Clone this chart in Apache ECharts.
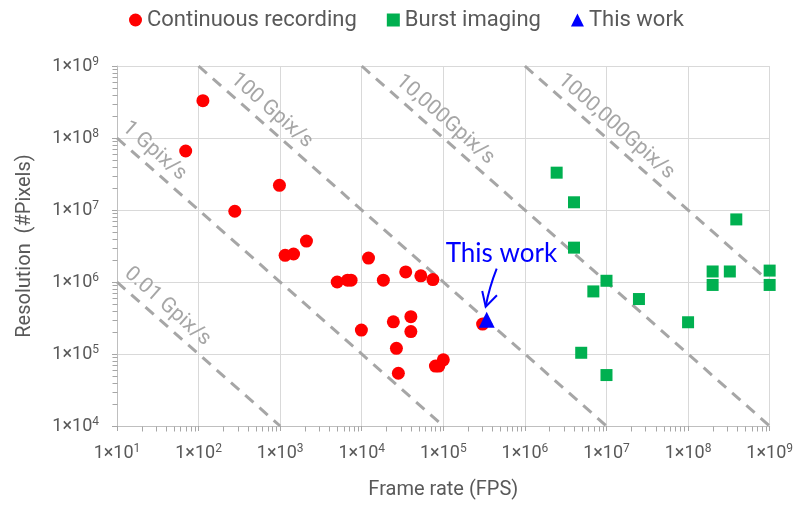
<!DOCTYPE html>
<html>
<head>
<meta charset="utf-8">
<script src="https://cdn.jsdelivr.net/npm/echarts@6/dist/echarts.min.js"></script>
<style>
  html, body { margin: 0; padding: 0; background: #fff; }
  #chart { width: 796px; height: 505px; }
</style>
</head>
<body>
<div id="chart"></div>
<script>
// Frame rate (frames per second) and resolution (pixels) of reported imagers
const continuousFps = [113, 69.5, 278, 980, 2100, 1150, 1460, 5000, 6700, 7400, 12100, 18400,
  9900, 24400, 26600, 28100, 34600, 53000, 74500, 40000, 40000, 80000, 88000, 100000, 303000];
const continuousPixels = [3.3e8, 6.6e7, 9.6e6, 2.2e7, 3.7e6, 2.35e6, 2.45e6, 1.0e6, 1.06e6, 1.06e6, 2.15e6, 1.06e6,
  2.15e5, 2.8e5, 1.2e5, 5.4e4, 1.38e6, 1.22e6, 1.08e6, 3.3e5, 2.05e5, 6.8e4, 6.8e4, 8.3e4, 2.6e5];

const burstFps = [2.45e6, 4.0e6, 3.9e8, 4.0e6, 1.0e7, 6.9e6, 2.5e7, 1.0e8, 4.9e6, 1.0e7,
  2.0e8, 2.0e8, 3.25e8, 1.0e9, 1.0e9];
const burstPixels = [3.3e7, 1.28e7, 7.4e6, 3.0e6, 1.04e6, 7.4e5, 5.8e5, 2.76e5, 1.04e5, 5.1e4,
  1.4e6, 9.1e5, 1.4e6, 1.44e6, 9.1e5];

const thisWorkFps = [3.4e5];
const thisWorkPixels = [3.0e5];

// Constant pixel-throughput guide lines (Gpix/s) and their captions
const throughputGpix = [0.01, 1, 100, 10000, 1000000];
const throughputLabels = ['0.01 Gpix/s', '1 Gpix/s', '100 Gpix/s', '10,000Gpix/s', '1000,000Gpix/s'];

// Decade exponents used for the axis ticks
const xTickExponents = [1, 2, 3, 4, 5, 6, 7, 8, 9];
const yTickExponents = [4, 5, 6, 7, 8, 9];

const xMin = Math.pow(10, xTickExponents[0]);
const xMax = Math.pow(10, xTickExponents[xTickExponents.length - 1]);
const yMin = Math.pow(10, yTickExponents[0]);
const yMax = Math.pow(10, yTickExponents[yTickExponents.length - 1]);

// caption placement along each guide line (fraction of its length) and offset above it
const captionAlong = [0.249, 0.084, 0.155, 0.18, 0.332];
const captionOffset = 15;

const textGrey = '#595959';
const guideGrey = '#a6a6a6';
const axisGrey = '#bfbfbf';
const tickGrey = '#a6a6a6';
const gridGrey = '#d9d9d9';
const FONT = 'Roboto, "Noto Sans", sans-serif';

function toSci(v) {
  const e = Math.round(Math.log10(v));
  return '{b|1×10}{e|' + e + '}';
}
const sciRich = {
  b: { fontSize: 18, color: textGrey, fontFamily: FONT },
  e: { fontSize: 12, color: textGrey, fontFamily: FONT, padding: [0, 0, 8, 0] }
};

// minor ticks at 2..9 within each decade, both axes
const minorTicks = [];
xTickExponents.slice(0, -1).forEach(function (e) {
  for (let k = 2; k <= 9; k++) minorTicks.push([k * Math.pow(10, e), yMin, 0]);
});
yTickExponents.slice(0, -1).forEach(function (e) {
  for (let k = 2; k <= 9; k++) minorTicks.push([xMin, k * Math.pow(10, e), 1]);
});

function renderGuide(params, api) {
  const i = params.dataIndex;
  const prod = throughputGpix[i] * 1e9;
  const x0 = Math.max(xMin, prod / yMax);
  const x1 = Math.min(xMax, prod / yMin);
  const p0 = api.coord([x0, prod / x0]);
  const p1 = api.coord([x1, prod / x1]);
  const dx = p1[0] - p0[0], dy = p1[1] - p0[1];
  const len = Math.hypot(dx, dy);
  const ux = dx / len, uy = dy / len;
  const t = captionAlong[i] * len;
  const cx = p0[0] + ux * t + uy * captionOffset;
  const cy = p0[1] + uy * t - ux * captionOffset;
  return {
    type: 'group',
    children: [
      {
        type: 'line',
        shape: { x1: p0[0], y1: p0[1], x2: p1[0], y2: p1[1] },
        style: { stroke: guideGrey, lineWidth: 3, lineDash: [11, 8] }
      },
      {
        type: 'text',
        x: cx, y: cy,
        rotation: -Math.atan2(dy, dx),
        style: {
          text: throughputLabels[i], fill: guideGrey,
          fontSize: 21, fontFamily: FONT,
          align: 'center', verticalAlign: 'middle'
        }
      }
    ]
  };
}

function renderMinorTick(params, api) {
  const p = api.coord([api.value(0), api.value(1)]);
  const onX = api.value(2) === 0;
  const x = Math.round(p[0]) + 0.5, y = Math.round(p[1]) + 0.5;
  return {
    type: 'line',
    shape: onX ? { x1: x, y1: y, x2: x, y2: y + 5 }
               : { x1: x, y1: y, x2: x - 5, y2: y },
    style: { stroke: tickGrey, lineWidth: 1 }
  };
}

const chart = echarts.init(document.getElementById('chart'), null, { renderer: 'canvas' });

chart.setOption({
  animation: false,
  backgroundColor: '#ffffff',
  grid: { left: 117, right: 24, top: 66, bottom: 73 },
  legend: {
    left: 129, top: 9, padding: 0,
    itemWidth: 13, itemHeight: 13, itemGap: 30,
    textStyle: { fontSize: 22, color: textGrey, fontFamily: FONT },
    data: ['Continuous recording', 'Burst imaging', 'This work']
  },
  xAxis: {
    type: 'log', logBase: 10, min: xMin, max: xMax,
    name: 'Frame rate (FPS)', nameLocation: 'middle', nameGap: 54,
    nameTextStyle: { fontSize: 20, color: textGrey, fontFamily: FONT },
    axisLine: { show: true, lineStyle: { color: axisGrey, width: 1 } },
    axisTick: { show: true, length: 5, lineStyle: { color: tickGrey } },
    splitLine: { show: true, lineStyle: { color: gridGrey, width: 1 } },
    axisLabel: { formatter: toSci, rich: sciRich, margin: 17 }
  },
  yAxis: {
    type: 'log', logBase: 10, min: yMin, max: yMax,
    name: 'Resolution  (#Pixels)', nameLocation: 'middle', nameGap: 82,
    nameTextStyle: { fontSize: 20, color: textGrey, fontFamily: FONT },
    axisLine: { show: true, lineStyle: { color: axisGrey, width: 1 } },
    axisTick: { show: true, length: 5, lineStyle: { color: tickGrey } },
    splitLine: { show: true, lineStyle: { color: gridGrey, width: 1 } },
    axisLabel: { formatter: toSci, rich: sciRich, margin: 18 }
  },
  series: [
    {
      type: 'custom', name: 'guides', silent: true, clip: false, z: 1,
      renderItem: renderGuide,
      encode: { x: 0, y: 1 },
      data: throughputGpix.map(function (g) {
        const prod = g * 1e9;
        const x0 = Math.max(xMin, prod / yMax);
        return [x0, prod / x0];
      })
    },
    {
      type: 'custom', name: 'minor ticks', silent: true, clip: false, z: 5,
      renderItem: renderMinorTick,
      encode: { x: 0, y: 1 },
      data: minorTicks
    },
    {
      type: 'scatter', name: 'Continuous recording', z: 3, clip: false,
      symbol: 'circle', symbolSize: 13,
      itemStyle: { color: '#ff0000', opacity: 1 },
      data: continuousFps.map(function (f, i) { return [f, continuousPixels[i]]; })
    },
    {
      type: 'scatter', name: 'Burst imaging', z: 3, clip: false,
      symbol: 'rect', symbolSize: 12,
      itemStyle: { color: '#00b050', opacity: 1 },
      data: burstFps.map(function (f, i) { return [f, burstPixels[i]]; })
    },
    {
      type: 'scatter', name: 'This work', z: 4, clip: false,
      symbol: 'triangle', symbolSize: 16,
      itemStyle: { color: '#0000ff', opacity: 1 },
      data: thisWorkFps.map(function (f, i) { return [f, thisWorkPixels[i]]; })
    }
  ]
});

// "This work" callout with an arrow pointing at the point
const tp = chart.convertToPixel({ seriesIndex: 4 }, [thisWorkFps[0], thisWorkPixels[0]]);
const start = [tp[0] + 10, tp[1] - 51];
const tip = [tp[0] - 1, tp[1] - 13];
const ang = Math.atan2(start[1] - tip[1], start[0] - tip[0]);
const armLen = 16, armSpread = 0.5;
chart.setOption({
  graphic: [
    {
      type: 'text', x: tp[0] - 41, y: tp[1] - 66, z: 10,
      style: {
        text: 'This work', fill: '#0000ff',
        fontSize: 26, fontFamily: 'Lato, "Open Sans", sans-serif',
        verticalAlign: 'middle', align: 'left'
      }
    },
    {
      type: 'bezierCurve', z: 10,
      shape: {
        x1: start[0], y1: start[1], x2: tip[0], y2: tip[1],
        cpx1: (start[0] + tip[0]) / 2 - 2, cpy1: (start[1] + tip[1]) / 2
      },
      style: { stroke: '#0000ff', lineWidth: 2, fill: null }
    },
    {
      type: 'polyline', z: 10,
      shape: {
        points: [
          [tip[0] + armLen * Math.cos(ang + armSpread), tip[1] + armLen * Math.sin(ang + armSpread)],
          tip,
          [tip[0] + armLen * Math.cos(ang - armSpread), tip[1] + armLen * Math.sin(ang - armSpread)]
        ]
      },
      style: { stroke: '#0000ff', lineWidth: 2, fill: null }
    }
  ]
});
</script>
</body>
</html>
